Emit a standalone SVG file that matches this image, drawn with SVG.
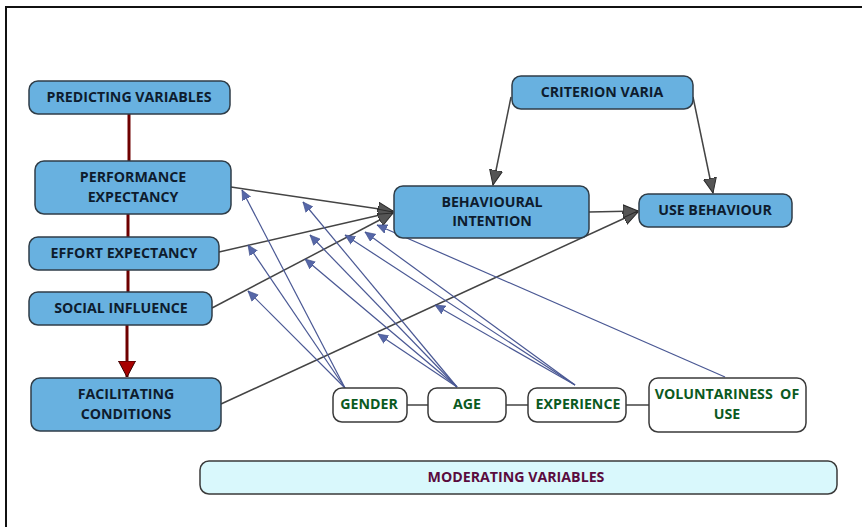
<svg xmlns="http://www.w3.org/2000/svg" width="862" height="527" viewBox="0 0 862 527">
<defs>
<style>
.blue rect{fill:#68b1e0;stroke:#2f3d48;stroke-width:1.5}
.blue text{fill:#0e1c2e}
.mod rect{fill:#ffffff;stroke:#3a3a3a;stroke-width:1.5}
.mod text{fill:#0b5a1f}
text{font-family:"Open Sans","Noto Sans","DejaVu Sans",sans-serif;font-weight:bold;font-size:14.2px;text-anchor:middle}
.main{stroke:#444;stroke-width:1.5;fill:none;marker-end:url(#ag)}
.mline{stroke:#4a5894;stroke-width:1.2;fill:none;marker-end:url(#ab)}
.red{stroke:#6e0000;stroke-width:3;fill:none}
.link{stroke:#444;stroke-width:1.3;fill:none}
</style>
<marker id="ag" markerUnits="userSpaceOnUse" markerWidth="16" markerHeight="14" refX="15" refY="7" orient="auto"><path d="M0,0.5 L15,7 L0,13.5 z" fill="#555" stroke="#2b2b2b" stroke-width="1"/></marker>
<marker id="ab" markerUnits="userSpaceOnUse" markerWidth="11" markerHeight="10" refX="10" refY="5" orient="auto"><path d="M0,0.5 L10,5 L0,9.5 z" fill="#5667a8" stroke="#3e4d88" stroke-width="0.6"/></marker>
<marker id="ar" markerUnits="userSpaceOnUse" markerWidth="17" markerHeight="18" refX="16" refY="9" orient="auto"><path d="M0,0.5 L16,9 L0,17.5 z" fill="#a80000" stroke="#3a0000" stroke-width="1"/></marker>
</defs>
<rect width="862" height="527" fill="#ffffff"/>
<path d="M6,527 L6,7 L862,7" stroke="#111" stroke-width="2" fill="none"/>

<g id="connectors">
<path class="red" d="M129,114 L129,161"/>
<path class="red" d="M128,214 L128,237"/>
<path class="red" d="M128,270 L128,292"/>
<path class="red" d="M127,325 L127,377" marker-end="url(#ar)"/>
<path class="main" d="M231,187 L393,211"/>
<path class="main" d="M219,252 L393,212"/>
<path class="main" d="M212,308 L393,213"/>
<path class="main" d="M221,404 L638,212"/>
<path class="main" d="M589,212 L638,211"/>
<path class="main" d="M511,97 L493,185"/>
<path class="main" d="M693,97 L713,193"/>
<path class="mline" d="M345,388 L242,190"/>
<path class="mline" d="M345,388 L248,245"/>
<path class="mline" d="M345,388 L248,291"/>
<path class="mline" d="M457,387 L303,202"/>
<path class="mline" d="M457,387 L310,235"/>
<path class="mline" d="M457,387 L305,259"/>
<path class="mline" d="M457,387 L378,334"/>
<path class="mline" d="M575,385 L345,235"/>
<path class="mline" d="M575,385 L365,232"/>
<path class="mline" d="M575,385 L435,305"/>
<path class="mline" d="M725,377 L377,225"/>
<path class="link" d="M407,405 L428,405 M506,405 L528,405 M626,405 L649,405"/>
</g>

<g id="predicting" class="blue"><rect x="29" y="81" width="201" height="33" rx="9"/><text x="129" y="102">PREDICTING VARIABLES</text></g>
<g id="performance" class="blue"><rect x="35" y="161" width="196" height="53" rx="9"/><text x="133" y="182">PERFORMANCE</text><text x="133" y="202">EXPECTANCY</text></g>
<g id="effort" class="blue"><rect x="29" y="237" width="190" height="33" rx="9"/><text x="124" y="258">EFFORT EXPECTANCY</text></g>
<g id="social" class="blue"><rect x="29" y="292" width="183" height="33" rx="9"/><text x="121" y="313">SOCIAL INFLUENCE</text></g>
<g id="facilitating" class="blue"><rect x="31" y="378" width="190" height="53" rx="9"/><text x="126" y="399">FACILITATING</text><text x="126" y="419">CONDITIONS</text></g>
<g id="criterion" class="blue"><rect x="512" y="76" width="181" height="33" rx="9"/><text x="602" y="97">CRITERION VARIA</text></g>
<g id="behavioural" class="blue"><rect x="394" y="186" width="195" height="52" rx="9"/><text x="492" y="207">BEHAVIOURAL</text><text x="492" y="226">INTENTION</text></g>
<g id="use" class="blue"><rect x="639" y="194" width="153" height="33" rx="9"/><text x="715" y="215">USE BEHAVIOUR</text></g>
<g id="gender" class="mod"><rect x="333" y="388" width="74" height="34" rx="9"/><text x="369" y="409">GENDER</text></g>
<g id="age" class="mod"><rect x="428" y="388" width="78" height="34" rx="9"/><text x="467" y="409">AGE</text></g>
<g id="experience" class="mod"><rect x="528" y="388" width="98" height="34" rx="9"/><text x="578" y="409">EXPERIENCE</text></g>
<g id="voluntariness" class="mod"><rect x="649" y="378" width="157" height="54" rx="9"/><text x="727" y="399">VOLUNTARINESS&#160; OF</text><text x="727" y="419">USE</text></g>
<g id="moderating"><rect x="200" y="461" width="637" height="33" rx="9" fill="#d9f8fc" stroke="#3a3a3a" stroke-width="1.5"/><text x="516" y="482" fill="#5a0b3e">MODERATING VARIABLES</text></g>
</svg>
